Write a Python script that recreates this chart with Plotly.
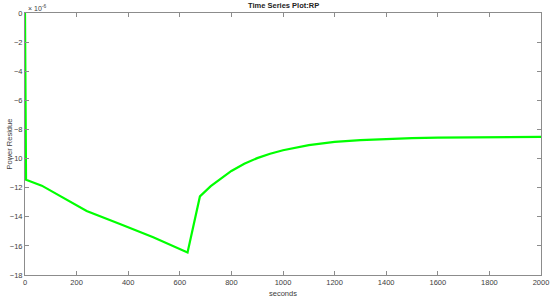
import plotly.graph_objects as go

# time (seconds) and power residue (x 1e-6)
t = [0, 2, 4, 65, 148, 239, 368, 497, 630, 678, 720, 760, 800, 850, 900, 950, 1000, 1100, 1200, 1300, 1400, 1500, 1600, 1800, 2000]
rp = [0, -5.0, -11.45, -11.86, -12.67, -13.6, -14.5, -15.4, -16.45, -12.6, -11.9, -11.35, -10.85, -10.36, -9.97, -9.67, -9.43, -9.08, -8.86, -8.73, -8.65, -8.59, -8.56, -8.52, -8.51]

x_ticks = list(range(0, 2001, 200))
y_ticks = list(range(-18, 1, 2))

fig = go.Figure()
fig.add_trace(go.Scatter(x=t, y=rp, mode="lines", hoverinfo="skip",
                         line=dict(color="#00ff00", width=2.2), showlegend=False))

axis_common = dict(showgrid=False, zeroline=False, showline=True, linecolor="#8c8c8c",
                   linewidth=1, mirror="ticks", ticks="inside", ticklen=4,
                   tickcolor="#8c8c8c", tickfont=dict(size=7.5, color="#3c3c3c",
                   family="Liberation Sans, Arial, sans-serif"))

fig.update_layout(
    width=550, height=299,
    margin=dict(l=25, r=9, t=13, b=24, autoexpand=False),
    paper_bgcolor="white", plot_bgcolor="white",
    xaxis=dict(range=[0, 2000], tickvals=x_ticks, **axis_common),
    yaxis=dict(range=[-18, 0], tickvals=y_ticks, **axis_common),
    font=dict(family="Liberation Sans, Arial, sans-serif"),
    annotations=[
        dict(text="<b>Time Series Plot:RP</b>", x=0.5, y=1, xref="paper", yref="paper",
             yshift=1, xanchor="center", yanchor="bottom", showarrow=False,
             font=dict(size=7.5, color="#222222")),
        dict(text="seconds", x=0.5, y=0, xref="paper", yref="paper",
             yshift=-12, xanchor="center", yanchor="top", showarrow=False,
             font=dict(size=7.5, color="#3c3c3c")),
        dict(text="Power Residue", x=0, y=0.5, xref="paper", yref="paper",
             xshift=-23, xanchor="left", yanchor="middle", textangle=-90, showarrow=False,
             font=dict(size=7.5, color="#3c3c3c")),
        dict(text="× 10<sup>-6</sup>", x=0, y=1, xref="paper", yref="paper",
             xshift=1, yshift=-1, xanchor="left", yanchor="bottom", showarrow=False,
             font=dict(size=7, color="#3c3c3c")),
    ],
)

fig.write_html("out.html", config={"displayModeBar": False, "staticPlot": True},
               post_script="document.body.style.margin='0px';")
